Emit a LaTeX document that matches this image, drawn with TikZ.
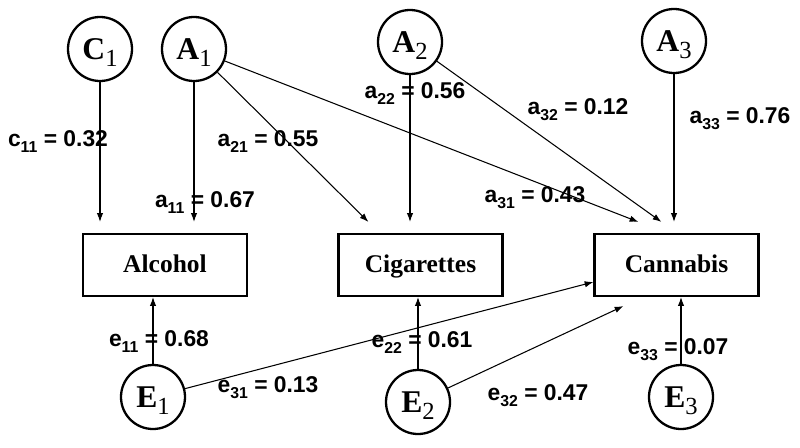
\documentclass[tikz,border=0pt]{standalone}
\usepackage{fontspec}
\setmainfont{Liberation Serif}
\setsansfont{Liberation Sans}
\usetikzlibrary{arrows.meta}

\newcommand{\lv}[2]{\textbf{#1}\raisebox{-4pt}{\fontsize{14}{14}\selectfont #2}}
\newcommand{\coefl}[3]{#1\raisebox{-0.55ex}{\fontsize{9}{9}\selectfont #2} = #3}

\tikzset{
  latent/.style={circle,draw,line width=1.3pt,minimum size=1.28cm,inner sep=0pt,
    text height=13pt,text depth=0.6pt,font=\fontsize{18}{18}\selectfont},
  observed/.style={rectangle,draw,line width=1.2pt,minimum width=3.28cm,
    minimum height=1.24cm,text height=9pt,text depth=1pt,
    font=\fontsize{14.5}{14.5}\selectfont\bfseries},
  effect/.style={->,line width=0.6pt},
  coef/.style={anchor=base,font=\fontsize{13}{13}\selectfont\sffamily\bfseries},
  >={Latex[length=5pt,width=3.6pt]}
}

\begin{document}
\begin{tikzpicture}
\useasboundingbox (0,0) rectangle (16,8.94);

% latent factors
\node[latent] (C1) at (2.0,7.96) {\lv{C}{1}};
\node[latent] (A1) at (3.88,7.96) {\lv{A}{1}};
\node[latent] (A2) at (8.2,8.1) {\lv{A}{2}};
\node[latent] (A3) at (13.48,8.12) {\lv{A}{3}};
\node[latent] (E1) at (3.06,1.0) {\lv{E}{1}};
\node[latent] (E2) at (8.36,0.9) {\lv{E}{2}};
\node[latent] (E3) at (13.62,1.0) {\lv{E}{3}};

% substances
\node[observed] (alcohol) at (3.3,3.64) {Alcohol};
\node[observed] (cigarettes) at (8.41,3.64) {Cigarettes};
\node[observed] (cannabis) at (13.53,3.64) {Cannabis};

\coordinate (alc-in) at ([yshift=0.22cm]alcohol.north);
\coordinate (cig-in) at ([yshift=0.22cm]cigarettes.north);
\coordinate (can-in) at ([yshift=0.22cm]cannabis.north);
\coordinate (cig-a1) at ([xshift=0.62cm,yshift=0.22cm]cigarettes.north west);
\coordinate (can-a1) at ([xshift=0.9cm,yshift=0.22cm]cannabis.north west);
\coordinate (can-a2) at ([xshift=1.36cm,yshift=0.22cm]cannabis.north west);
\coordinate (can-e1) at ([yshift=-0.34cm]cannabis.west);
\coordinate (can-e2) at ([xshift=0.6cm,yshift=-0.18cm]cannabis.south west);

% paths from above
\draw[effect] (C1) -- (C1 |- alc-in);
\draw[effect] (A1) -- (A1 |- alc-in);
\draw[effect] (A1) -- (cig-a1);
\draw[effect] (A1) -- (can-a1);
\draw[effect] (A2) -- (A2 |- cig-in);
\draw[effect] (A2) -- (can-a2);
\draw[effect] (A3) -- (A3 |- can-in);

% paths from below
\draw[effect] (E1) -- (E1 |- alcohol.south);
\draw[effect] (E1) -- (can-e1);
\draw[effect] (E2) -- (E2 |- cigarettes.south);
\draw[effect] (E2) -- (can-e2);
\draw[effect] (E3) -- (E3 |- cannabis.south);

% coefficients
\node[coef] (lc11) at (1.16,6.02) {\coefl{c}{11}{0.32}};
\node[coef] (la11) at (4.1,4.8) {\coefl{a}{11}{0.67}};
\node[coef] (la21) at (5.36,6.02) {\coefl{a}{21}{0.55}};
\node[coef] (la22) at (8.3,6.98) {\coefl{a}{22}{0.56}};
\node[coef] (la32) at (11.56,6.66) {\coefl{a}{32}{0.12}};
\node[coef] (la33) at (14.8,6.48) {\coefl{a}{33}{0.76}};
\node[coef] (la31) at (10.7,4.9) {\coefl{a}{31}{0.43}};
\node[coef] (le11) at (3.18,2.02) {\coefl{e}{11}{0.68}};
\node[coef] (le31) at (5.36,1.1) {\coefl{e}{31}{0.13}};
\node[coef] (le22) at (8.44,2.0) {\coefl{e}{22}{0.61}};
\node[coef] (le32) at (10.76,0.94) {\coefl{e}{32}{0.47}};
\node[coef] (le33) at (13.56,1.86) {\coefl{e}{33}{0.07}};
\end{tikzpicture}
\end{document}
